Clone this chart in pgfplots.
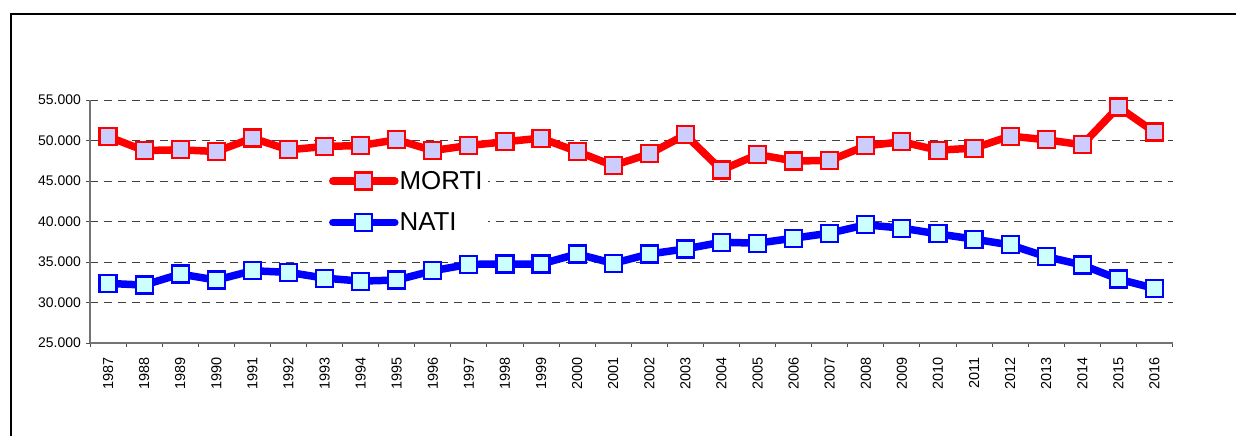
\documentclass[border=0pt]{standalone}
\usepackage{pgfplots}
\pgfplotsset{compat=1.18}
\usepackage{fontspec}
\setmainfont{Liberation Sans}
\definecolor{mfill}{RGB}{204,204,255}
\definecolor{nfill}{RGB}{204,255,255}
\begin{document}
\begin{tikzpicture}[x=1bp,y=1bp]
\useasboundingbox (0,0) rectangle (1236,436);
\draw[line width=1.3bp,black] (11,-5) -- (11,422) -- (1245,422);
\begin{axis}[
  at={(90bp,93bp)}, anchor=south west,
  scale only axis, width=1082.5bp, height=243bp,
  xmin=-0.5, xmax=29.5, ymin=25000, ymax=55000,
  enlargelimits=false,
  scaled y ticks=false,
  axis lines=left,
  axis line style={-, draw=black!55, line width=1.1bp},
  tick align=outside,
  tick style={draw=black!70, line width=0.9bp},
  major tick length=4bp, minor tick length=4bp,
  xtick={0,...,29},
  xticklabels={1987,1988,1989,1990,1991,1992,1993,1994,1995,1996,1997,1998,1999,2000,2001,2002,2003,2004,2005,2006,2007,2008,2009,2010,2011,2012,2013,2014,2015,2016},
  x tick style={draw=none},
  minor xtick={-0.5,0.5,...,29.5},
  minor x tick style={draw=black!70, line width=0.9bp},
  xticklabel style={rotate=90, anchor=east, font=\fontsize{14.5}{14.5}\selectfont, inner sep=1bp},
  xticklabel shift={9bp},
  ytick={25000,30000,...,55000},
  yticklabels={25.000,30.000,35.000,40.000,45.000,50.000,55.000},
  yticklabel style={font=\fontsize{14}{14}\selectfont, inner sep=1bp, xshift=-4bp},
  ymajorgrids,
  major grid style={draw=black!75, line width=0.9bp, dash pattern=on 8bp off 6bp},
  legend style={at={(0.217,0.724)}, anchor=north west, draw=none, fill=white,
    font=\fontsize{26}{26}\selectfont, row sep=20bp, inner xsep=4bp, inner ysep=3bp,
    nodes={inner sep=1bp}},
  legend cell align=left,
  legend image code/.code={\draw[mark repeat=2,mark phase=2] plot coordinates {(0bp,0bp)(31bp,0bp)(62bp,0bp)};},
]
\addplot[red, line width=7.5bp, line join=round, line cap=round, mark=square*, mark size=8.5bp,
  mark options={fill=mfill, draw=red, line width=2.2bp, line cap=butt, line join=miter}] coordinates {
(0,50480)(1,48760)(2,48850)(3,48640)(4,50300)(5,48850)(6,49260)(7,49380)(8,50090)(9,48760)
(10,49380)(11,49840)(12,50290)(13,48640)(14,46900)(15,48350)(16,50700)(17,46350)(18,48260)(19,47480)
(20,47520)(21,49340)(22,49840)(23,48800)(24,49060)(25,50540)(26,50090)(27,49470)(28,54140)(29,51040)};
\addlegendentry{MORTI}
\addplot[blue, line width=7.5bp, line join=round, line cap=round, mark=square*, mark size=8.5bp,
  mark options={fill=nfill, draw=blue, line width=2.2bp, line cap=butt, line join=miter}] coordinates {
(0,32360)(1,32150)(2,33510)(3,32770)(4,33920)(5,33720)(6,33010)(7,32640)(8,32770)(9,33920)
(10,34710)(11,34750)(12,34750)(13,35990)(14,34830)(15,35990)(16,36610)(17,37440)(18,37320)(19,37940)
(20,38560)(21,39590)(22,39180)(23,38470)(24,37820)(25,37110)(26,35660)(27,34630)(28,32890)(29,31740)};
\addlegendentry{NATI}
\end{axis}
\end{tikzpicture}
\end{document}
